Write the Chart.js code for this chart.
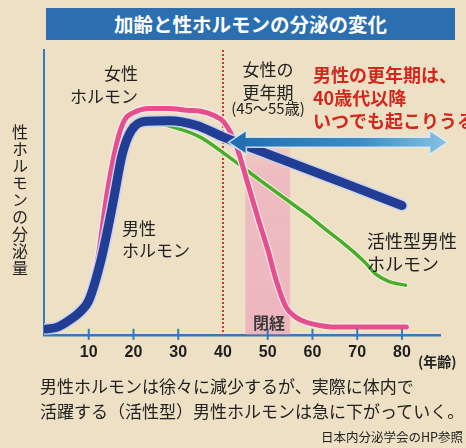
<!DOCTYPE html>
<html><head><meta charset="utf-8">
<script src="https://cdn.jsdelivr.net/npm/chart.js@4"></script>
<style>
html,body{margin:0;padding:0;background:#ede0c4;}
#wrap{position:relative;width:466px;height:448px;overflow:hidden;font-family:"Noto Sans CJK JP","Noto Sans",sans-serif;background:#ede0c4;}
canvas{position:absolute;left:0;top:0;}
.t{position:absolute;white-space:nowrap;color:#222;}
</style></head><body>
<div id="wrap">
<canvas id="c" width="466" height="448"></canvas>
<div class="t" style="left:46px;top:8px;width:409px;height:32px;background:#2b6fb0;color:#fff;font-weight:bold;font-size:19.5px;line-height:32px;text-align:center;">加齢と性ホルモンの分泌の変化</div>
<div class="t" style="left:11px;top:124px;writing-mode:vertical-rl;font-size:16px;letter-spacing:1px;line-height:18px;">性ホルモンの分泌量</div>
<div class="t" style="right:328px;top:61px;font-size:17px;line-height:23px;text-align:right;">女性<br>ホルモン</div>
<div class="t" style="left:240px;top:57px;width:56px;font-size:17px;line-height:23px;text-align:center;">女性の<br>更年期</div>
<div class="t" style="left:228px;top:99px;width:80px;font-size:15px;line-height:18px;text-align:center;">(45〜55歳)</div>
<div class="t" style="left:313px;top:63px;font-size:18px;line-height:23px;font-weight:bold;color:#d4261c;">男性の更年期は、<br>40歳代以降<br>いつでも起こりうる</div>
<div class="t" style="left:122px;top:217px;font-size:17px;line-height:22px;">男性<br>ホルモン</div>
<div class="t" style="left:367px;top:229px;font-size:18px;line-height:23px;">活性型男性<br>ホルモン</div>
<div class="t" style="left:253px;top:311px;font-size:16px;line-height:22px;font-weight:bold;color:#3a3a3a;">閉経</div>
<div class="t" style="left:418px;top:352px;font-size:14px;line-height:18px;font-weight:bold;">(年齢)</div>
<div class="t" style="left:40px;top:373px;font-size:17px;line-height:25px;">男性ホルモンは徐々に減少するが、実際に体内で<br>活躍する（活性型）男性ホルモンは急に下がっていく。</div>
<div class="t" style="right:3px;top:429px;font-size:12.5px;line-height:16px;">日本内分泌学会のHP参照</div>
</div>
<script>
// ---- data (age in years, secretion level in relative units 0-100) ----
const maleAges   = [0.5, 3, 6, 8, 10, 12.7, 15, 15.7, 17.5, 19.5, 22.8, 28, 34, 40, 50, 60, 70, 80];
const maleVals   = [2, 2.7, 5.5, 8, 12, 26, 43, 48.8, 63.5, 71.7, 75, 75.2, 73.6, 69.5, 63.5, 57.5, 51.5, 45.4];
const femaleAges = [0.5, 3, 6, 8, 10, 12, 14, 16.3, 18, 20, 23.5, 28, 32, 35, 38, 40, 42, 43.6, 45, 48, 50, 52, 54, 56, 58.6, 62, 65, 70, 81];
const femaleVals = [1.7, 2.4, 5, 8.5, 14, 26.6, 48.8, 67.6, 75.4, 78, 79.5, 79.5, 78.8, 78.5, 77, 75, 70, 63.5, 56, 40, 30, 18.5, 10, 6.5, 4.4, 3.2, 2.7, 2.7, 2.7];
const activeAges = [22.8, 27, 34.7, 41, 48, 56, 59, 63, 66.7, 69, 72, 74, 77, 80.8];
const activeVals = [75, 73.7, 69.6, 62.8, 54.6, 45.4, 42, 36.9, 32.4, 29.4, 25, 21.5, 18.8, 17.4];
const tickAges   = [10, 20, 30, 40, 50, 60, 70, 80];
const menopause  = [45, 55];      // shaded band (years)
const bandTop    = 68;            // band top level
const markerAge  = 40;            // dotted line
const arrowSpan  = [41.2, 90.2];  // double arrow range (years)
const arrowLevel = 67.6;

const pts = (a, v) => a.map((x, i) => ({x, y: v[i]}));

const base = {pointRadius: 0, fill: false, cubicInterpolationMode: 'monotone', borderCapStyle: 'round', borderJoinStyle: 'round'};

const decor = {
  id: 'decor',
  beforeDatasetsDraw(chart) {
    const {ctx, chartArea: a, scales: {x, y}} = chart;
    ctx.save();
    const x1 = x.getPixelForValue(menopause[0]), x2 = x.getPixelForValue(menopause[1]);
    const yt = y.getPixelForValue(bandTop);
    const g = ctx.createLinearGradient(0, yt, 0, a.bottom);
    g.addColorStop(0, 'rgba(238,150,190,0.15)');
    g.addColorStop(0.15, 'rgba(238,145,188,0.45)');
    g.addColorStop(1, 'rgba(238,140,185,0.5)');
    ctx.fillStyle = g;
    ctx.fillRect(x1, yt, x2 - x1, a.bottom - yt);
    const xd = x.getPixelForValue(markerAge);
    ctx.strokeStyle = '#d2352f'; ctx.lineWidth = 2; ctx.setLineDash([2, 2]);
    ctx.beginPath(); ctx.moveTo(xd, a.top); ctx.lineTo(xd, a.bottom); ctx.stroke();
    ctx.restore();
  },
  afterDatasetsDraw(chart) {
    const {ctx, scales: {x, y}} = chart;
    const xl = x.getPixelForValue(arrowSpan[0]), xr = x.getPixelForValue(arrowSpan[1]);
    const ya = y.getPixelForValue(arrowLevel);
    const hl = 18, hh = 12, sh = 5;
    ctx.save();
    ctx.beginPath();
    ctx.moveTo(xl, ya);
    ctx.lineTo(xl + hl, ya - hh); ctx.lineTo(xl + hl, ya - sh);
    ctx.lineTo(xr - hl, ya - sh); ctx.lineTo(xr - hl, ya - hh);
    ctx.lineTo(xr, ya);
    ctx.lineTo(xr - hl, ya + hh); ctx.lineTo(xr - hl, ya + sh);
    ctx.lineTo(xl + hl, ya + sh); ctx.lineTo(xl + hl, ya + hh);
    ctx.closePath();
    const g = ctx.createLinearGradient(xl, 0, xr, 0);
    g.addColorStop(0, '#1f6cb0'); g.addColorStop(0.6, '#3d8cc6'); g.addColorStop(1, '#86c3e2');
    ctx.fillStyle = g; ctx.fill();
    ctx.strokeStyle = 'rgba(225,238,248,0.85)'; ctx.lineWidth = 1.5; ctx.stroke();
    ctx.restore();
  },
  afterDraw(chart) {
    const {ctx, chartArea: a, scales: {x}} = chart;
    ctx.save();
    ctx.strokeStyle = '#2f7bbd'; ctx.lineWidth = 2;
    tickAges.forEach(t => {
      if (t === markerAge) return;
      const px = x.getPixelForValue(t);
      ctx.beginPath(); ctx.moveTo(px, a.bottom - 6); ctx.lineTo(px, a.bottom + 5); ctx.stroke();
    });
    ctx.restore();
  }
};

new Chart(document.getElementById('c'), {
  type: 'line',
  data: {
    datasets: [
      {...base, data: pts(maleAges, maleVals), borderColor: '#223d94', borderWidth: 9},
      {...base, data: pts(maleAges, maleVals), borderColor: 'rgba(200,210,240,0.9)', borderWidth: 12},
      {...base, data: pts(femaleAges, femaleVals), borderColor: '#e44f8d', borderWidth: 5},
      {...base, data: pts(femaleAges, femaleVals), borderColor: 'rgba(255,236,242,0.85)', borderWidth: 7.5},
      {...base, data: pts(activeAges, activeVals), borderColor: '#4cab2c', borderWidth: 3.5},
      {...base, data: pts(activeAges, activeVals), borderColor: 'rgba(240,252,225,0.8)', borderWidth: 5.5}
    ]
  },
  options: {
    responsive: false, animation: false, devicePixelRatio: 1,
    layout: {padding: {left: 44, top: 50, right: 26, bottom: 78}},
    plugins: {legend: {display: false}, tooltip: {enabled: false}},
    scales: {
      x: {
        type: 'linear', min: 0, max: 88.5,
        grid: {display: false, drawTicks: false},
        border: {display: true, color: '#2f7bbd', width: 2.5},
        afterBuildTicks: s => { s.ticks = tickAges.map(v => ({value: v})); },
        ticks: {
          padding: 8, autoSkip: false, maxRotation: 0,
          color: '#1e1e1e', font: {family: '"Liberation Sans", Arial, sans-serif', size: 16, weight: 'bold'},
          callback: v => String(v)
        }
      },
      y: {
        min: 0, max: 100,
        grid: {display: false, drawTicks: false},
        border: {display: true, color: '#2f7bbd', width: 2},
        ticks: {display: false}
      }
    }
  },
  plugins: [decor]
});
</script>
</body></html>
